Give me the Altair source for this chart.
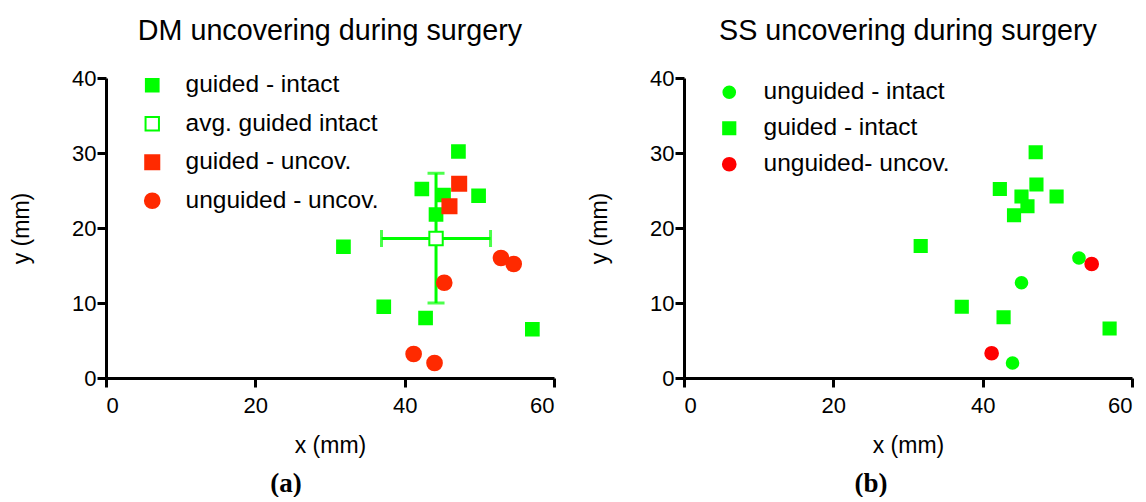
import altair as alt
import pandas as pd

# ---------------- Panel (a): DM ----------------
A_NAMES = ["guided - intact", "avg. guided intact", "guided - uncov.", "unguided - uncov."]
a_gi_x = [47.2, 42.3, 45.2, 49.9, 44.2, 31.8, 37.2, 42.8, 57.1]
a_gi_y = [30.2, 25.2, 24.4, 24.3, 21.8, 17.5, 9.5, 8.0, 6.5]
a_avg_x = [44.2]
a_avg_y = [18.6]
a_avg_x_lo = [36.9]
a_avg_x_hi = [51.5]
a_avg_y_lo = [10.0]
a_avg_y_hi = [27.3]
a_gu_x = [47.3, 46.0]
a_gu_y = [25.9, 22.9]
a_uu_x = [52.9, 54.6, 45.3, 41.2, 44.0]
a_uu_y = [16.0, 15.2, 12.7, 3.2, 2.0]

# ---------------- Panel (b): SS ----------------
B_NAMES = ["unguided - intact", "guided - intact", "unguided- uncov."]
b_ui_x = [52.9, 45.2, 44.0]
b_ui_y = [16.0, 12.7, 2.0]
b_gi_x = [47.1, 42.3, 47.2, 45.2, 49.9, 46.0, 44.2, 31.7, 37.2, 42.8, 57.0]
b_gi_y = [30.1, 25.2, 25.8, 24.2, 24.2, 22.9, 21.7, 17.6, 9.5, 8.1, 6.6]
b_uu_x = [54.6, 41.2]
b_uu_y = [15.2, 3.3]

X_TICKS = [0, 20, 40, 60]
Y_TICKS = [0, 10, 20, 30, 40]

GREEN = "#00FF00"
RED_A = "#FF2A00"
RED_B = "#FF0000"

W, H = 448, 300


def make_df(groups, field):
    rows = []
    for name, xs, ys in groups:
        for x, y in zip(xs, ys):
            rows.append({"x": x, "y": y, field: name})
    return pd.DataFrame(rows)


def xenc(field):
    return alt.X(field, type="quantitative",
                 scale=alt.Scale(domain=[0, 60], nice=False, zero=False),
                 axis=alt.Axis(values=X_TICKS, title="x (mm)"))


def yenc(field):
    return alt.Y(field, type="quantitative",
                 scale=alt.Scale(domain=[0, 40], nice=False, zero=False),
                 axis=alt.Axis(values=Y_TICKS, title="y (mm)"))


def title(text):
    return alt.TitleParams(text, fontSize=28.7, font="Liberation Sans", fontWeight="normal",
                           color="black", anchor="middle", frame="group", offset=-2,
                           baseline="alphabetic")


def legend(lx, ly, rowpad, loff):
    return alt.Legend(title=None, orient="none", legendX=lx, legendY=ly, padding=0,
                      rowPadding=rowpad, labelOffset=loff, labelFontSize=24.5,
                      labelFont="Liberation Sans", labelColor="black", labelLimit=400,
                      symbolStrokeWidth=2)


def points(df, field, names, shapes, fills, strokes, sizes, leg):
    return alt.Chart(df).mark_point(strokeWidth=2, opacity=1).encode(
        x=xenc("x"), y=yenc("y"),
        shape=alt.Shape(field, type="nominal", scale=alt.Scale(domain=names, range=shapes), legend=leg),
        fill=alt.Fill(field, type="nominal", scale=alt.Scale(domain=names, range=fills), legend=leg),
        stroke=alt.Stroke(field, type="nominal", scale=alt.Scale(domain=names, range=strokes), legend=leg),
        size=alt.Size(field, type="nominal", scale=alt.Scale(domain=names, range=sizes), legend=leg),
    )


def panel_label(text, px, py):
    return alt.Chart(pd.DataFrame({"t": [text]})).mark_text(
        font="Liberation Serif", fontWeight="bold", fontSize=27, color="black",
        align="center", baseline="middle").encode(text="t:N", x=alt.value(px), y=alt.value(py))


# ----- panel a -----
df_a = make_df([(A_NAMES[0], a_gi_x, a_gi_y), (A_NAMES[1], a_avg_x, a_avg_y),
                (A_NAMES[2], a_gu_x, a_gu_y), (A_NAMES[3], a_uu_x, a_uu_y)], "series_a")
df_err = pd.DataFrame({"x": a_avg_x, "y": a_avg_y, "x_lo": a_avg_x_lo, "x_hi": a_avg_x_hi,
                       "y_lo": a_avg_y_lo, "y_hi": a_avg_y_hi})
df_capx = pd.DataFrame({"x": a_avg_x_lo + a_avg_x_hi, "y": a_avg_y * 2})
df_capy = pd.DataFrame({"x": a_avg_x * 2, "y": a_avg_y_lo + a_avg_y_hi})

err_h = alt.Chart(df_err).mark_rule(color=GREEN, strokeWidth=3).encode(
    x=xenc("x_lo"), x2="x_hi", y=yenc("y"))
err_v = alt.Chart(df_err).mark_rule(color=GREEN, strokeWidth=3).encode(
    x=xenc("x"), y=yenc("y_lo"), y2="y_hi")
cap_x = alt.Chart(df_capx).mark_tick(orient="vertical", size=17, thickness=3, color=GREEN).encode(
    x=xenc("x"), y=yenc("y"))
cap_y = alt.Chart(df_capy).mark_tick(orient="horizontal", size=17, thickness=3, color=GREEN).encode(
    x=xenc("x"), y=yenc("y"))

pts_a = points(df_a, "series_a", A_NAMES,
               ["square", "square", "square", "circle"],
               [GREEN, "white", RED_A, RED_A],
               [GREEN, GREEN, RED_A, RED_A],
               [161, 216, 161, 135],
               legend(34, -5, 13.5, 21))

panel_a = alt.layer(err_h, err_v, cap_x, cap_y, pts_a, panel_label("(a)", 180, 406)).properties(
    width=W, height=H, title=title("DM uncovering during surgery"))

# ----- panel b -----
df_b = make_df([(B_NAMES[1], b_gi_x, b_gi_y), (B_NAMES[0], b_ui_x, b_ui_y),
                (B_NAMES[2], b_uu_x, b_uu_y)], "series_b")
pts_b = points(df_b, "series_b", B_NAMES,
               ["circle", "square", "circle"],
               [GREEN, GREEN, RED_B],
               [GREEN, GREEN, RED_B],
               [135, 161, 135],
               legend(33, 2, 11, 22))

panel_b = alt.layer(pts_b, panel_label("(b)", 187, 406)).properties(
    width=W, height=H, title=title("SS uncovering during surgery"))

chart = alt.hconcat(panel_a, panel_b, spacing=130, bounds="flush").resolve_scale(
    shape="independent", fill="independent", stroke="independent", size="independent"
).resolve_legend(
    shape="independent", fill="independent", stroke="independent", size="independent"
).properties(
    padding={"left": 2, "top": 9, "right": 0, "bottom": 0},
    background="white"
).configure_axis(
    domainColor="black", domainWidth=3, tickColor="black", tickWidth=3, tickSize=9,
    labelFont="Liberation Sans", labelFontSize=22, labelColor="black",
    titleFont="Liberation Sans", titleFontSize=23, titleFontWeight="normal", titleColor="black",
    grid=False
).configure_axisX(
    labelPadding=8, titlePadding=18
).configure_axisY(
    labelPadding=1, titlePadding=38
).configure_view(
    strokeWidth=0
)

chart.save("out.html", embed_options={"renderer": "svg", "actions": False})
